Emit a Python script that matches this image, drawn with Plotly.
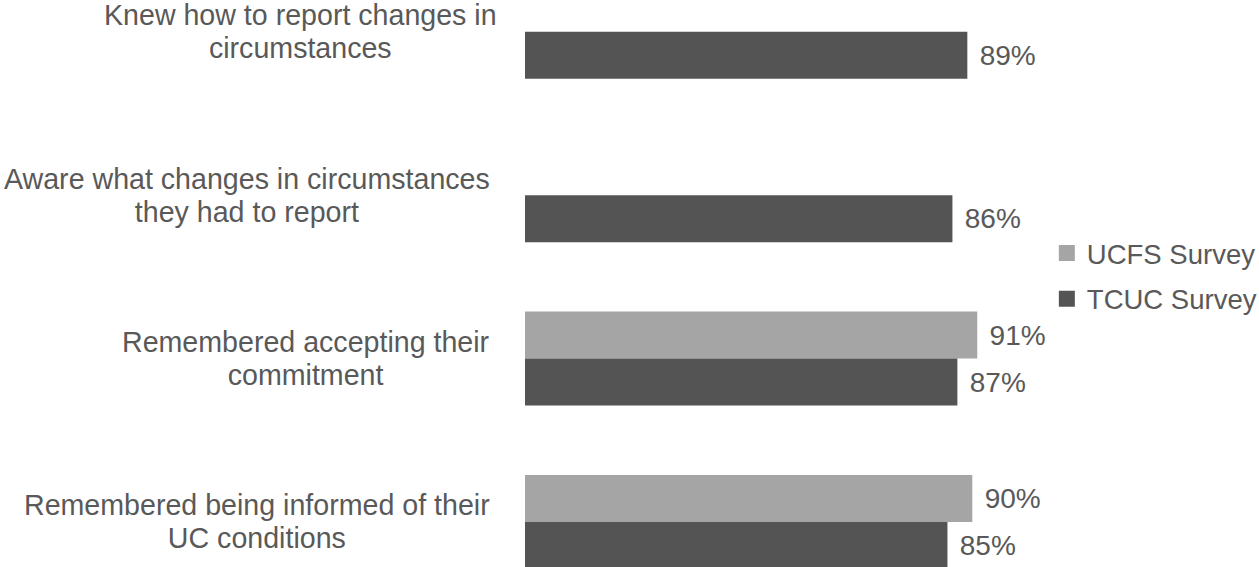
import plotly.graph_objects as go

# ---- data ----
categories = [
    "Knew how to report changes in circumstances",
    "Aware what changes in circumstances they had to report",
    "Remembered accepting their commitment",
    "Remembered being informed of their UC conditions",
]
category_labels = [
    "Knew how to report changes in<br>circumstances",
    "Aware what changes in circumstances<br>they had to report",
    "Remembered accepting their<br>commitment",
    "Remembered being informed of their<br>UC conditions",
]
series_names = ["UCFS Survey", "TCUC Survey"]
ucfs_values = [None, None, 91, 90]
tcuc_values = [89, 86, 87, 85]

# ---- style ----
TEXT = "#595959"
FONT = "Arial, Liberation Sans, sans-serif"
COL_UCFS = "#A5A5A5"
COL_TCUC = "#545454"
PAD = "\u2004"
LABEL_SIZE = 28.6      # glyph size of category labels
LABEL_LINE_BASE = 25.6  # base size controlling line spacing (1.3 * base)

def fmt(vals):
    return [None if v is None else f"{PAD}{v}%" for v in vals]

def styled(lab):
    return "<br>".join(
        f"<span style='font-size:{LABEL_SIZE}px'>{ln}</span>" for ln in lab.split("<br>")
    )

fig = go.Figure()
for name, vals, col in [(series_names[0], ucfs_values, COL_UCFS),
                        (series_names[1], tcuc_values, COL_TCUC)]:
    fig.add_trace(go.Bar(
        y=categories, x=vals, orientation="h", name=name,
        marker=dict(color=col, line=dict(width=0)),
        text=fmt(vals), textposition="outside", cliponaxis=False,
        constraintext="none",
        textfont=dict(size=28, color=TEXT, family=FONT),
        showlegend=False, hoverinfo="skip",
    ))

# legend proxies (square swatches)
for i, (name, col) in enumerate([(series_names[0], COL_UCFS), (series_names[1], COL_TCUC)]):
    fig.add_trace(go.Scatter(
        x=[None], y=[None], mode="markers", name=name,
        marker=dict(symbol="square", size=16, color=col),
        legendgroup=f"g{i}", showlegend=True,
    ))

label_shift = [-26, -33, -33, -33]
for lab, cat, sh in zip(category_labels, categories, label_shift):
    fig.add_annotation(
        xref="paper", yref="y", x=0, y=cat, xanchor="right", yanchor="middle",
        xshift=sh, text=styled(lab), showarrow=False, align="center",
        font=dict(size=LABEL_LINE_BASE, color=TEXT, family=FONT),
    )

fig.update_layout(
    width=1259, height=567,
    margin=dict(l=525, r=237, t=0, b=0, autoexpand=False),
    paper_bgcolor="white", plot_bgcolor="white",
    barmode="group", bargap=0.4248, bargroupgap=0,
    font=dict(family=FONT, color=TEXT, size=27.5),
    legend=dict(
        x=1.05, xanchor="left", y=0.513, yanchor="middle",
        traceorder="grouped", tracegroupgap=7,
        font=dict(size=27.5, color=TEXT, family=FONT),
        bgcolor="rgba(0,0,0,0)", borderwidth=0,
    ),
    xaxis=dict(range=[0, 100], showgrid=False, zeroline=False,
               showticklabels=False, showline=False, fixedrange=True),
    yaxis=dict(type="category", categoryorder="array", categoryarray=categories,
               range=[3.2755, -0.194], showgrid=False, zeroline=False,
               showticklabels=False, showline=False, ticks=""),
)

fig.write_html("out.html")
